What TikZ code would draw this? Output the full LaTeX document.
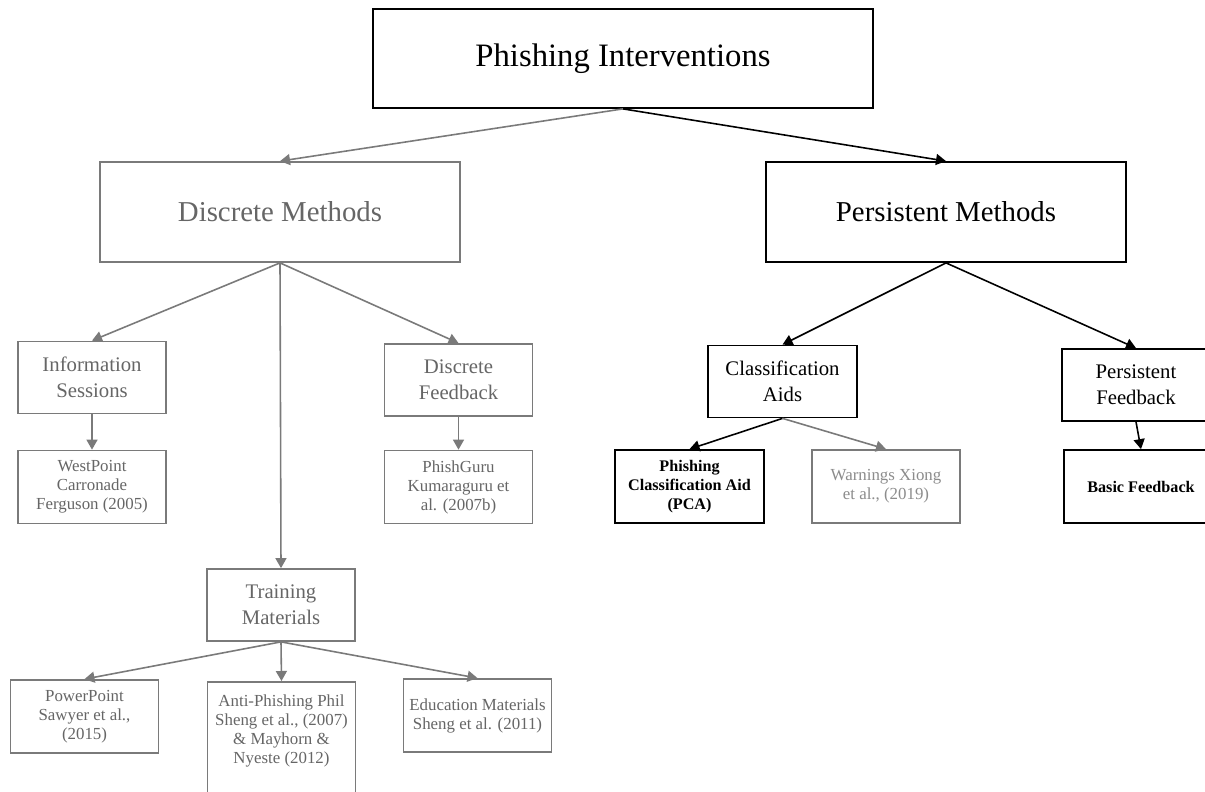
\documentclass[tikz,border=0pt]{standalone}
\usepackage{fontspec}
\setmainfont{Liberation Serif}
\usepackage{xcolor}
\usepackage{tikz}
\usetikzlibrary{positioning, arrows.meta}
\definecolor{lgray}{HTML}{7A7A7A}
\definecolor{tgray}{HTML}{666666}
\definecolor{wgray}{HTML}{8C8C8C}

\begin{document}
\begin{tikzpicture}[x=0.2mm, y=-0.2mm]
	\tikzstyle{box}=[draw=black, line width=1pt, align=center, inner sep=0pt]
	\tikzstyle{gbox}=[box, draw=lgray, text=tgray]
	\tikzstyle{bigbox}=[minimum width=72mm, minimum height=20mm, font=\fontsize{16.4}{20}\selectfont]
	\tikzstyle{midbox}=[minimum width=29.6mm, minimum height=14.4mm, font=\fontsize{11.8}{14.7}\selectfont]
	\tikzstyle{smallbox}=[minimum width=29.6mm, minimum height=14.6mm, font=\fontsize{9.6}{10.8}\selectfont]
	\tikzstyle{boldbox}=[smallbox, font=\fontsize{9.2}{11}\selectfont\bfseries]
	\tikzstyle{arr}=[line width=0.9pt, -{Triangle[length=2mm,width=2.2mm]}]
	\tikzstyle{garr}=[arr, lgray]
	\useasboundingbox (0,0) rectangle (1205,792);
	\clip (0,0) rectangle (1205,792);
	\fill[white] (0,0) rectangle (1205,792);
	\node[box, minimum width=100mm, minimum height=19.8mm, font=\fontsize{18.6}{22}\selectfont](root) at (623,58.5) {Phishing Interventions};
	\node[gbox, bigbox](dm) at (280,212) {Discrete Methods};
	\node[box, bigbox](pm) at (946,212) {Persistent Methods};
	\node[gbox, midbox](is) at (92,377.5) {Information\\Sessions};
	\node[gbox, midbox](df) at (458.5,380) {Discrete\\Feedback};
	\node[gbox, smallbox](wp) at (92,487) {WestPoint\\Carronade\\Ferguson (2005)};
	\node[gbox, smallbox](pg) at (458.5,487) {PhishGuru\\Kumaraguru et\\al. (2007b)};
	\node[gbox, midbox](tm) at (281,605) {Training\\Materials};
	\node[gbox, smallbox](pp) at (84.5,716.5) {PowerPoint\\Sawyer et al.,\\(2015)};
	\node[gbox, smallbox, minimum height=24mm, anchor=north](ap) at (281.5,681) {Anti-Phishing Phil\\Sheng et al., (2007)\\\& Mayhorn \&\\Nyeste (2012)\\[1.2mm]};
	\node[gbox, smallbox](em) at (477.5,715.5) {Education Materials\\Sheng et al. (2011)};
	\node[box, midbox, minimum width=29.8mm](ca) at (782.5,381.5) {Classification\\Aids};
	\node[box, midbox](pf) at (1136,385) {Persistent\\Feedback};
	\node[box, boldbox, minimum width=29.8mm](pca) at (689.5,486.5) {Phishing\\Classification Aid\\(PCA)};
	\node[box, smallbox, draw=lgray, text=wgray](wx) at (886,486.5) {Warnings Xiong\\et al., (2019)};
	\node[box, boldbox, minimum width=30.8mm](bf) at (1141,486.5) {Basic Feedback};
	\draw[garr](root.south) -- (dm.north);
	\draw[arr](root.south) -- (pm.north);
	\draw[garr](dm.south) -- (is.north);
	\draw[garr](dm.south) -- (tm.north);
	\draw[garr](dm.south) -- (df.north);
	\draw[garr](is.south) -- (wp.north);
	\draw[garr](df.south) -- (pg.north);
	\draw[garr](tm.south) -- (pp.north);
	\draw[garr](tm.south) -- (ap.north);
	\draw[garr](tm.south) -- (em.north);
	\draw[arr](pm.south) -- (ca.north);
	\draw[arr](pm.south) -- (pf.north);
	\draw[arr](ca.south) -- (pca.north);
	\draw[garr](ca.south) -- (wx.north);
	\draw[arr](pf.south) -- (bf.north);
\end{tikzpicture}
\end{document}
